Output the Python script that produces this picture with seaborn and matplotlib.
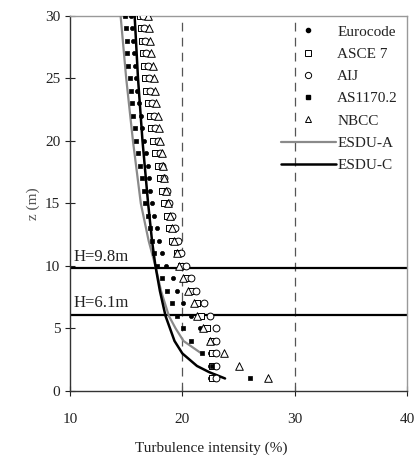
import numpy as np
import pandas as pd
import matplotlib
matplotlib.use("Agg")
import matplotlib.pyplot as plt
import seaborn as sns
from matplotlib.lines import Line2D

sns.set_theme(style="white")
plt.rcParams['font.family'] = ['Liberation Serif', 'DejaVu Serif']

# ---- data ----
z = list(range(30, 0, -1))  # 30 .. 1

eurocode = [15.4, 15.5, 15.6, 15.7, 15.8, 15.9, 16.0, 16.15, 16.3, 16.45,
            16.6, 16.75, 16.9, 17.05, 17.15, 17.3, 17.5, 17.7, 17.9, 18.2,
            18.5, 19.2, 19.5, 20.1, 20.8, 21.6, 22.5, 22.5, 22.5, 22.5]
asce7 = [16.2, 16.3, 16.4, 16.5, 16.6, 16.7, 16.8, 16.95, 17.1, 17.25,
         17.4, 17.6, 17.8, 18.0, 18.2, 18.4, 18.6, 18.85, 19.1, 19.5,
         19.9, 20.4, 20.8, 21.3, 21.7, 22.2, 22.6, 22.6, 22.6, 22.6]
aij = [16.5, 16.6, 16.7, 16.8, 16.9, 17.0, 17.15, 17.3, 17.45, 17.6,
       17.8, 18.0, 18.2, 18.4, 18.6, 18.8, 19.05, 19.3, 19.6, 19.9,
       20.3, 20.8, 21.2, 21.9, 22.5, 23.0, 23.0, 23.0, 23.0, 23.0]
as1170 = [14.9, 15.0, 15.05, 15.1, 15.2, 15.3, 15.4, 15.5, 15.6, 15.75,
          15.9, 16.05, 16.2, 16.4, 16.55, 16.7, 16.9, 17.1, 17.3, 17.5,
          17.75, 18.2, 18.6, 19.1, 19.5, 20.1, 20.8, 21.75, 22.6, 26.0]
nbcc = [16.95, 17.05, 17.15, 17.25, 17.35, 17.45, 17.55, 17.65, 17.8, 17.9,
        18.0, 18.15, 18.3, 18.4, 18.55, 18.7, 18.9, 19.05, 19.25, 19.5,
        19.7, 20.1, 20.5, 21.0, 21.3, 21.8, 22.5, 23.7, 25.0, 27.6]

esdu_a_z = [30, 25, 20, 15, 12, 10, 8, 6, 5, 4, 3]
esdu_a = [14.5, 15.0, 15.6, 16.3, 17.0, 17.6, 18.1, 18.8, 19.4, 20.1, 21.7]
esdu_c_z = [30, 25, 20, 15, 12, 10, 8, 6, 5, 4, 3, 2, 1.5, 1]
esdu_c = [15.75, 16.05, 16.45, 16.95, 17.3, 17.6, 18.0, 18.5, 18.9, 19.3,
          20.0, 21.3, 22.4, 23.8]

heights = [9.8, 6.1]
height_labels = ["H=9.8m", "H=6.1m"]

# ---- figure ----
fig = plt.figure(figsize=(4.17, 4.66), dpi=100)
ax = fig.add_axes([0.168, 0.161, 0.808, 0.805])

for xv in [20, 30]:
    ax.axvline(xv, color="#555555", lw=0.9, ls=(0, (7, 5)), zorder=1)

for h, lab in zip(heights, height_labels):
    ax.axhline(h, color="black", lw=1.6, zorder=2)
    ax.text(10.3, h + 0.3, lab, fontsize=12, color="#222222", va="bottom", ha="left")

df_a = pd.DataFrame({"x": esdu_a, "z": esdu_a_z})
df_c = pd.DataFrame({"x": esdu_c, "z": esdu_c_z})
sns.lineplot(data=df_a, x="x", y="z", sort=False, ax=ax, color="#8a8a8a", lw=1.6, zorder=3)
sns.lineplot(data=df_c, x="x", y="z", sort=False, ax=ax, color="black", lw=1.8, zorder=4)

pts = pd.DataFrame({"z": z, "Eurocode": eurocode, "ASCE 7": asce7, "AIJ": aij,
                    "AS1170.2": as1170, "NBCC": nbcc})
styles = {
    "Eurocode": dict(marker="o", s=9, color="black", edgecolor="black", linewidth=0.5),
    "ASCE 7": dict(marker="s", s=22, facecolor="white", edgecolor="black", linewidth=0.7),
    "AIJ": dict(marker="o", s=24, facecolor="white", edgecolor="black", linewidth=0.7),
    "AS1170.2": dict(marker="s", s=10, color="black", edgecolor="black", linewidth=0.5),
    "NBCC": dict(marker="^", s=30, facecolor="white", edgecolor="black", linewidth=0.7),
}
for name, st in styles.items():
    sns.scatterplot(data=pts, x=name, y="z", ax=ax, zorder=5, **st)

ax.set_xlim(10, 40)
ax.set_ylim(0, 30)
ax.set_xticks([10, 20, 30, 40])
ax.set_yticks([0, 5, 10, 15, 20, 25, 30])
ax.set_xlabel("Turbulence intensity (%)", fontsize=11, color="#222222")
ax.xaxis.set_label_coords(0.418, -0.135)
ax.set_ylabel("z (m)", fontsize=11, color="#555555", labelpad=4)
ax.tick_params(axis="both", labelsize=11, colors="#222222", direction="inout",
               length=7, width=0.8, left=True, bottom=True)
ax.tick_params(axis="x", pad=12)
for side in ["left", "bottom"]:
    ax.spines[side].set_color("#333333")
    ax.spines[side].set_linewidth(1.0)
for side in ["top", "right"]:
    ax.spines[side].set_color("#999999")
    ax.spines[side].set_linewidth(1.0)

handles = [
    Line2D([], [], ls="none", marker="o", ms=3, color="black"),
    Line2D([], [], ls="none", marker="s", ms=4.5, mfc="white", mec="black", mew=0.7),
    Line2D([], [], ls="none", marker="o", ms=4.5, mfc="white", mec="black", mew=0.7),
    Line2D([], [], ls="none", marker="s", ms=3.2, color="black"),
    Line2D([], [], ls="none", marker="^", ms=5, mfc="white", mec="black", mew=0.7),
    Line2D([], [], color="#8a8a8a", lw=1.6),
    Line2D([], [], color="black", lw=1.8),
]
labels = ["Eurocode", "ASCE 7", "AIJ", "AS1170.2", "NBCC", "ESDU-A", "ESDU-C"]
leg = ax.legend(handles, labels, loc="upper right", bbox_to_anchor=(1.0, 1.0),
                frameon=False, fontsize=11, handlelength=3.6, handletextpad=0.1,
                labelspacing=0.56, borderaxespad=0.2)
for t in leg.get_texts():
    t.set_color("#222222")

fig.savefig("out.png", dpi=100)
